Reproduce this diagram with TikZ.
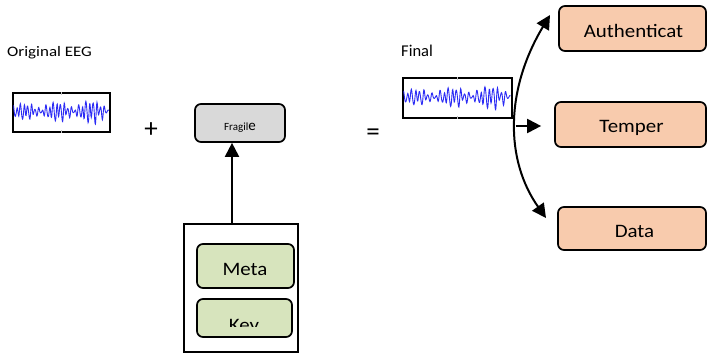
\documentclass[tikz,border=0pt]{standalone}
\usepackage{fontspec}
\usepackage{graphicx}
\setmainfont{Carlito}
\usetikzlibrary{arrows.meta}
\definecolor{boxorange}{HTML}{F8CBAD}
\definecolor{boxgreen}{HTML}{D7E4BD}
\definecolor{boxgrey}{HTML}{D9D9D9}
\definecolor{wave}{HTML}{2B2BF5}
\begin{document}
\begin{tikzpicture}[x=1pt,y=-1pt,
  rbox/.style={draw=black,line width=1.7pt,rounded corners=6pt,inner sep=0pt},
  obox/.style={rbox,fill=boxorange},
  gbox/.style={rbox,fill=boxgreen},
  frbox/.style={rbox,fill=boxgrey},
  eegbox/.style={draw=black,line width=1.2pt,fill=white,inner sep=0pt},
  arr/.style={line width=2pt,-{Triangle[length=14pt,width=14pt]}},
  lbl/.style={inner sep=0pt,anchor=base west}]
\useasboundingbox (0,0) rectangle (707,358);

% labels
\node[lbl] (orig) at (7,56.5) {\fontsize{14.5}{16}\selectfont\scalebox{1.17}[1]{Original EEG}};
\node[lbl] (final) at (401,56.5) {\fontsize{16.5}{18}\selectfont Final};

% EEG boxes
\node[eegbox,minimum width=97pt,minimum height=39pt] (eeg1) at (61.5,112.5) {};
\node[eegbox,minimum width=109pt,minimum height=40pt] (eeg2) at (457.5,98) {};
\foreach \b/\w in {eeg1/97,eeg2/109}{
  \draw[gray!45,line width=0.5pt] (\b.north) -- ++(0,2.5);
  \draw[gray!45,line width=0.5pt] (\b.south) -- ++(0,-2.5);
  \begin{scope}
    \clip ([xshift=1pt,yshift=-1pt]\b.north west) rectangle ([xshift=-1pt,yshift=1pt]\b.south east);
    \draw[wave,line width=0.9pt,shift={(\b.west)}]
      plot[domain=1:99,samples=300,smooth]
      ({\x*\w/100},{-(2.5+10*abs(sin(\x*5.2+30))*(0.5+0.005*\x))*(0.75*sin(\x*96)+0.35*sin(\x*53+60)+0.15*sin(\x*150)) - 1});
  \end{scope}
}

% operators
\node[inner sep=0pt] (plus) at (151,130) {\fontsize{27}{29}\selectfont +};
\node[inner sep=0pt] (eq) at (373,135) {\fontsize{27}{29}\selectfont =};

% fragile
\node[frbox,minimum width=90pt,minimum height=38pt] (fragile) at (240,123) {};
\node[inner sep=0pt,anchor=base] (fragtxt) at (240,130.5) {\fontsize{11}{12}\selectfont Fragil{\fontsize{15}{16}\selectfont e}};

% outer box with meta and key
\node[draw=black,line width=1.5pt,fill=white,minimum width=114pt,minimum height=128pt,inner sep=0pt] (outer) at (241,288) {};
\node[gbox,minimum width=97pt,minimum height=44pt] (meta) at (245.5,266) {};
\node[inner sep=0pt,anchor=base] (metatxt) at (245,275.5) {\fontsize{19}{21}\selectfont\scalebox{1.1}[1]{Meta}};
\node[gbox,minimum width=95pt,minimum height=38pt] (key) at (244.5,318) {};
\begin{scope}
  \clip (200,300) rectangle (290,326.5);
  \node[inner sep=0pt,anchor=base] (keytxt) at (244,331) {\fontsize{19}{21}\selectfont\scalebox{1.1}[1]{Key}};
\end{scope}
\draw[arr] ([xshift=-9pt]outer.north) -- ([xshift=-9pt]outer.north |- fragile.south);

% right boxes
\node[obox,minimum width=147pt,minimum height=45pt] (auth) at (632.5,28.5) {};
\node[inner sep=0pt,anchor=base] (authtxt) at (633.5,37.3) {\fontsize{19}{21}\selectfont\scalebox{1.1}[1]{Authenticat}};
\node[obox,minimum width=151pt,minimum height=45pt] (temper) at (630.5,124.5) {};
\node[inner sep=0pt,anchor=base] (tempertxt) at (631.5,132.5) {\fontsize{19}{21}\selectfont\scalebox{1.1}[1]{Temper}};
\node[obox,minimum width=148pt,minimum height=43pt] (data) at (632,228.5) {};
\node[inner sep=0pt,anchor=base] (datatxt) at (634.5,237.3) {\fontsize{19}{21}\selectfont\scalebox{1.1}[1]{Data}};

% splitting arrows
\coordinate (toptip) at (550,15);
\coordinate (bottip) at (546,218);
\coordinate (split) at (515.5,126);
\draw[line width=2pt,{Triangle[length=14pt,width=14pt]}-{Triangle[length=14pt,width=14pt]}]
  (toptip) .. controls (505,90) and (505,160) .. (bottip);
\draw[arr] (split) -- ([xshift=-13pt]split -| temper.west);
\end{tikzpicture}
\end{document}
